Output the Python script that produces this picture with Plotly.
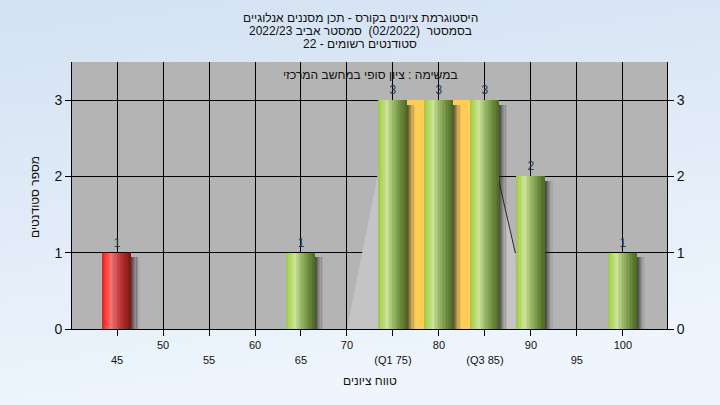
import base64
import plotly.graph_objects as go

# ---------------- data ----------------
scores = [45, 65, 75, 80, 85, 90, 100]
counts = [1, 1, 3, 3, 3, 2, 1]
pass_mark = 55
q1, q3 = 75, 85
iqr_height = 3
tick_vals = [45, 50, 55, 60, 65, 70, 75, 80, 85, 90, 95, 100]
tick_texts = ["45", "50", "55", "60", "65", "70", "(Q1 75)", "80", "(Q3 85)", "90", "95", "100"]
dist_x = [70, 73.4, 86.4, 88.3, 88.5]
dist_y = [0, 2.06, 2.0, 1.0, 0]

title_lines = [
    "היסטוגרמת ציונים בקורס - תכן מסננים אנלוגיים",
    "בסמסטר  (02/2022)  סמסטר אביב 2022/23",
    "סטודנטים רשומים - 22",
]
subtitle = "במשימה : ציון סופי במחשב המרכזי"
x_title = "טווח ציונים"
y_title = "מספר סטודנטים"

FONT = "Liberation Sans, DejaVu Sans, Arial, sans-serif"


def rtl(s):
    return "\u202b" + s + "\u202c"


def hex2rgb(h):
    h = h.lstrip("#")
    return tuple(int(h[i:i + 2], 16) for i in (0, 2, 4))


def grad(stops, t):
    for (p0, c0), (p1, c1) in zip(stops[:-1], stops[1:]):
        if p0 <= t <= p1:
            f = (t - p0) / (p1 - p0) if p1 > p0 else 0
            a, b = hex2rgb(c0), hex2rgb(c1)
            r = [round(a[k] + (b[k] - a[k]) * f) for k in range(3)]
            return "rgb(%d,%d,%d)" % tuple(r)
    return stops[-1][1]


green_stops = [(0, "#9ccb40"), (0.12, "#afd660"), (0.3, "#cde39c"), (0.55, "#93b463"),
               (0.8, "#6a873a"), (1.0, "#4e6826")]
red_stops = [(0, "#ff1616"), (0.12, "#ff3a3a"), (0.3, "#f07676"), (0.6, "#c23b3b"),
             (0.85, "#962222"), (1.0, "#7a1414")]

bw = 3.1
n_strips = 18

fig = go.Figure()

# distribution-like light area (main subplot, drawn below the bar subplot)
fig.add_trace(go.Scatter(x=dist_x, y=dist_y, fill="toself", fillcolor="#c4c4c4",
                         mode="lines", line=dict(width=0), hoverinfo="skip", showlegend=False))
fig.add_trace(go.Scatter(x=dist_x[2:4], y=dist_y[2:4], mode="lines",
                         line=dict(color="#2a2a2a", width=1), hoverinfo="skip", showlegend=False))

# interquartile band
fig.add_trace(go.Bar(x=[(q1 + q3) / 2], y=[iqr_height], width=[q3 - q1], yaxis="y2",
                     marker=dict(color="#ffcc55", line=dict(width=0)),
                     hoverinfo="skip", showlegend=False))

# shadows
shadow_alpha = [0.7, 0.6, 0.48, 0.36, 0.25, 0.15, 0.07]
for j, a in enumerate(shadow_alpha):
    fig.add_trace(go.Bar(x=scores, y=[c - 0.06 for c in counts], width=0.14,
                         offset=bw / 2 - 0.05 + j * 0.12, yaxis="y2",
                         marker=dict(color="rgba(30,30,30,%.2f)" % a, line=dict(width=0)),
                         hoverinfo="skip", showlegend=False))

# cylinder bars as strips
for i in range(n_strips):
    t = (i + 0.5) / n_strips
    cols = [grad(red_stops if s < pass_mark else green_stops, t) for s in scores]
    fig.add_trace(go.Bar(x=scores, y=counts, width=bw / n_strips * 1.08,
                         offset=-bw / 2 + i * bw / n_strips, yaxis="y2",
                         marker=dict(color=cols, line=dict(width=0)),
                         hoverinfo="skip", showlegend=False))

# value labels
fig.add_trace(go.Scatter(x=scores, y=[c + 0.04 for c in counts], text=[str(c) for c in counts],
                         mode="text", textposition="top center", yaxis="y2",
                         textfont=dict(family=FONT, size=12, color="#22395a"),
                         hoverinfo="skip", showlegend=False))

ml, mr, mt, mb = 72, 53, 62, 76
W, H = 720, 405
pw, ph = W - ml - mr, H - mt - mb


def py(ypix):
    return 1 + (mt - ypix) / ph


def px(xpix):
    return (xpix - ml) / pw


svg = ("<svg xmlns='http://www.w3.org/2000/svg' width='720' height='405'>"
       "<defs><linearGradient id='g' x1='0' y1='0' x2='0.25' y2='1'>"
       "<stop offset='0' stop-color='#d3e1f2'/><stop offset='1' stop-color='#eef5fd'/>"
       "</linearGradient></defs><rect width='720' height='405' fill='url(#g)'/></svg>")
src = "data:image/svg+xml;base64," + base64.b64encode(svg.encode()).decode()

ticktext = [("<br>" + t) if k % 2 == 0 else t for k, t in enumerate(tick_texts)]

annotations = []
for k, line in enumerate(title_lines):
    annotations.append(dict(text=rtl(line), x=px(360), y=py(18 + 13 * k),
                            xref="paper", yref="paper",
                            xanchor="center", yanchor="middle", showarrow=False,
                            font=dict(family=FONT, size=12, color="#111111")))
annotations.append(dict(text=rtl(subtitle), x=px(370), y=py(75), xref="paper", yref="paper",
                        xanchor="center", yanchor="middle", showarrow=False,
                        font=dict(family=FONT, size=12, color="#111111")))
annotations.append(dict(text=rtl(x_title), x=px(370), y=py(381), xref="paper", yref="paper",
                        xanchor="center", yanchor="middle", showarrow=False,
                        font=dict(family=FONT, size=12, color="#111111")))
annotations.append(dict(text=rtl(y_title), x=px(35), y=py(197), xref="paper", yref="paper",
                        xanchor="center", yanchor="middle", showarrow=False, textangle=-90,
                        font=dict(family=FONT, size=12, color="#111111")))

fig.update_layout(
    width=W, height=H,
    margin=dict(l=ml, r=mr, t=mt, b=mb),
    paper_bgcolor="#e2ecf8",
    plot_bgcolor="#b4b4b4",
    barmode="overlay",
    bargap=0,
    showlegend=False,
    font=dict(family=FONT, color="#111111"),
    images=[dict(source=src, xref="paper", yref="paper", x=-ml / pw, y=1 + mt / ph,
                 sizex=W / pw, sizey=H / ph, sizing="stretch", layer="below",
                 xanchor="left", yanchor="top")],
    shapes=[dict(type="rect", xref="paper", yref="paper", x0=0, x1=1, y0=0, y1=1,
                 fillcolor="#b4b4b4", line=dict(width=0), layer="below")],
    xaxis=dict(range=[40.1, 104.8], tickmode="array", tickvals=tick_vals, ticktext=ticktext,
               showgrid=True, gridcolor="#000000", gridwidth=1, zeroline=False,
               showline=True, linecolor="#000000", linewidth=1,
               ticks="outside", ticklen=6, tickcolor="#000000",
               tickfont=dict(family=FONT, size=11, color="#111111")),
    yaxis=dict(range=[0, 3.5], tickmode="array", tickvals=[0, 1, 2, 3],
               showgrid=True, gridcolor="#000000", gridwidth=1, zeroline=False,
               showline=True, linecolor="#000000", linewidth=1,
               ticks="outside", ticklen=6, tickcolor="#000000",
               tickfont=dict(family=FONT, size=14, color="#111122")),
    yaxis2=dict(range=[0, 3.5], tickmode="array", tickvals=[0, 1, 2, 3], overlaying="y",
                side="right", showgrid=False, zeroline=False,
                showline=True, linecolor="#000000", linewidth=1,
                ticks="outside", ticklen=6, tickcolor="#000000",
                tickfont=dict(family=FONT, size=14, color="#111122")),
    annotations=annotations,
)

fig.write_html("out.html", config={"displayModeBar": False},
               post_script="document.body.style.margin='0';document.body.style.padding='0';")
